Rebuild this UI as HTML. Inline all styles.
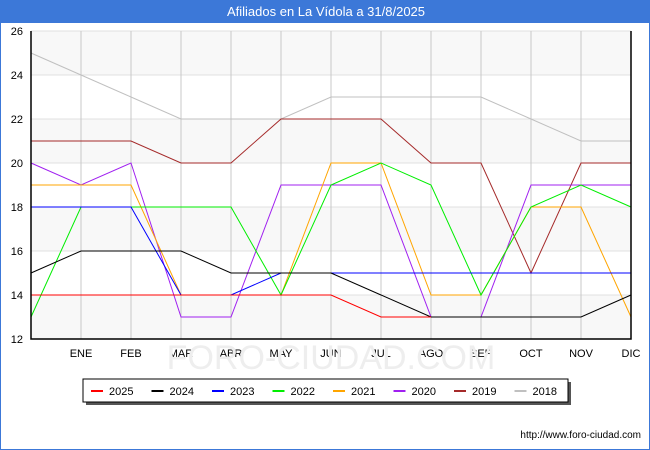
<!DOCTYPE html>
<html><head><meta charset="utf-8"><style>
body{margin:0;background:#fff;font-family:"Liberation Sans",sans-serif}
#wrap{position:relative;width:650px;height:450px;overflow:hidden;border:1px solid #3c78d8;box-sizing:border-box}
#title{position:absolute;left:0;top:0;width:650px;height:22px;background:#3c78d8;color:#fff;font-size:13px;text-align:center;line-height:22px}
</style></head><body>
<div id="wrap">
<div id="title">Afiliados en La Vídola a 31/8/2025</div>
<svg id="svg" width="650" height="450" style="position:absolute;left:0;top:0"></svg>
</div>
<script>
const months=["","ENE","FEB","MAR","ABR","MAY","JUN","JUL","AGO","SEP","OCT","NOV","DIC"];
const yTicks=[12,14,16,18,20,22,24,26];
const seriesNames=["2025","2024","2023","2022","2021","2020","2019","2018"];
const seriesColors=["#ff0000","#000000","#0000ff","#00ee00","#ffa500","#a020f0","#a52a2a","#c0c0c0"];
const s2025=[14,14,14,14,14,14,14,13,13];
const s2024=[15,16,16,16,15,15,15,14,13,13,13,13,14];
const s2023=[18,18,18,14,14,15,15,15,15,15,15,15,15];
const s2022=[13,18,18,18,18,14,19,20,19,14,18,19,18];
const s2021=[19,19,19,14,14,14,20,20,14,14,18,18,13];
const s2020=[20,19,20,13,13,19,19,19,13,13,19,19,19];
const s2019=[21,21,21,20,20,22,22,22,20,20,15,20,20];
const s2018=[25,24,23,22,22,22,23,23,23,23,22,21,21];
const allSeries=[s2025,s2024,s2023,s2022,s2021,s2020,s2019,s2018];
const L=30,R=630,T=30,B=338,ymin=12,ymax=26;
const xs=i=>L+i*(R-L)/12;
const ys=v=>B-(v-ymin)*(B-T)/(ymax-ymin);
const svg=document.getElementById('svg');const NS="http://www.w3.org/2000/svg";
function mk(t,a,p){const e=document.createElementNS(NS,t);for(const k in a)e.setAttribute(k,a[k]);(p||svg).appendChild(e);return e;}
// bands
for(let v=12;v<26;v+=4){const b=mk('rect',{x:L,y:ys(v+2),width:R-L,height:ys(v)-ys(v+2),fill:'#f8f8f8'});

}
yTicks.forEach(v=>{const g=mk('line',{x1:L,x2:R,y1:ys(v),y2:ys(v),stroke:'#e0e0e0'});


const t=mk('text',{x:L-8,y:ys(v)+4,'text-anchor':'end','font-size':11,fill:'#000'});t.textContent=v;

});
months.forEach((m,i)=>{const g=mk('line',{x1:xs(i),x2:xs(i),y1:T,y2:B,stroke:'#c8c8c8'});


if(m){const t=mk('text',{x:xs(i),y:B+18,'text-anchor':'middle','font-size':11});t.textContent=m;

}});
const wm=mk('text',{x:330,y:368,'text-anchor':'middle','font-size':34,fill:'#eeeeee'});wm.textContent="FORO-CIUDAD.COM";


for(let k=allSeries.length-1;k>=0;k--){const d=allSeries[k];
const p=mk('polyline',{points:d.map((v,i)=>xs(i)+','+ys(v)).join(' '),fill:'none',stroke:seriesColors[k],'stroke-width':1});

}
const ax=mk('path',{d:`M${L} ${T}V${B}H${R}V${T}`,fill:'none',stroke:'#000','stroke-width':1.5});


// legend
mk('rect',{x:85,y:381,width:485,height:23,fill:'#555'});
const lg=mk('rect',{x:82,y:378,width:485,height:23,fill:'#fff',stroke:'#000'});


seriesNames.forEach((n,i)=>{const x0=90+i*60.5;
const l=mk('line',{x1:x0,x2:x0+12,y1:390,y2:390,stroke:seriesColors[i],'stroke-width':2});


const t=mk('text',{x:x0+18,y:394,'font-size':11});t.textContent=n;

});
const f=mk('text',{x:640,y:437,'text-anchor':'end','font-size':10});f.textContent="http://www.foro-ciudad.com";


</script>
</body></html>
